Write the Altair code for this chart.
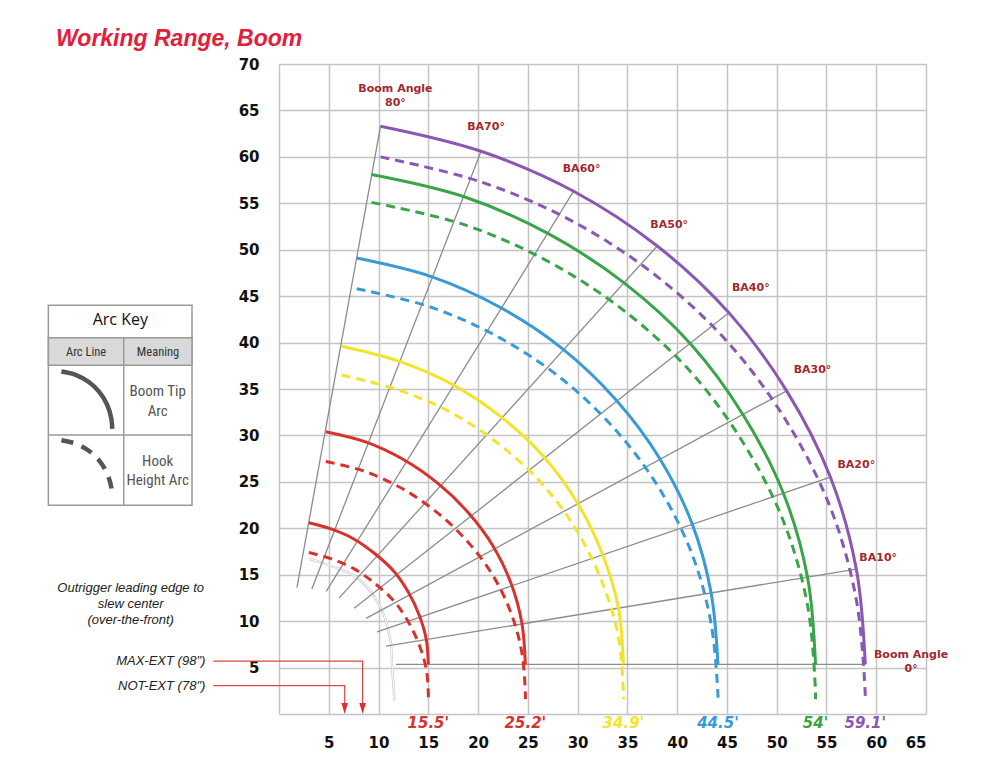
import altair as alt
import pandas as pd

# boom angles (deg) at which the tip positions were read, top of the arc first
angles = [80, 70, 60, 50, 40, 30, 20, 10, 0]

# one arc per boom length, labelled by max reach (ft)
reach_labels = ["15.5'", "25.2'", "34.9'", "44.5'", "54'", "59.1'"]
arc_colors = ["#d8322c", "#d8322c", "#f2e42a", "#3a9ad6", "#3aa449", "#8a57b3"]
label_colors = ["#d8322c", "#d8322c", "#e0d21e", "#3a9ad6", "#3aa449", "#6b3d98"]

# boom tip position (ft) at each boom angle, one row per arc
tip_x = [
    [3.0, 5.3, 7.6, 9.7, 11.6, 13.0, 14.1, 14.8, 15.0],
    [4.7, 8.7, 12.5, 16.0, 19.0, 21.5, 23.3, 24.4, 24.75],
    [6.3, 12.0, 17.4, 22.3, 26.6, 30.0, 32.5, 34.1, 34.6],
    [7.8, 15.3, 22.2, 28.4, 33.8, 38.2, 41.5, 43.4, 44.1],
    [9.3, 18.6, 27.1, 34.7, 41.4, 46.7, 50.7, 53.1, 53.9],
    [10.2, 20.3, 29.6, 38.0, 45.2, 51.0, 55.4, 58.0, 58.9],
]
tip_y = [
    [20.6, 19.9, 18.8, 17.2, 15.3, 13.1, 10.6, 8.0, 5.35],
    [30.4, 29.3, 27.4, 24.8, 21.7, 18.1, 14.1, 9.8, 5.35],
    [39.6, 38.0, 35.5, 32.0, 27.7, 22.7, 17.2, 11.4, 5.35],
    [49.1, 47.1, 43.8, 39.4, 33.9, 27.6, 20.5, 13.1, 5.35],
    [58.1, 55.7, 51.7, 46.4, 39.8, 32.1, 23.7, 14.7, 5.35],
    [63.3, 60.6, 56.3, 50.4, 43.2, 34.8, 25.5, 15.6, 5.35],
]
# hook hangs this far under the tip; hook arcs run down to hook_bottom
hook_drop = [3.2, 3.2, 3.1, 3.3, 3.0, 3.3]
hook_bottom = 1.6

# where each boom angle line starts (base of the boom), it ends at the longest tip
boom_start_x = [1.8, 3.3, 4.75, 6.05, 7.55, 8.75, 9.85, 10.75, 11.75]
boom_start_y = [13.6, 13.45, 13.2, 12.5, 11.4, 10.3, 8.85, 7.3, 5.35]
ba_text = ["Boom Angle\n80°", "BA70°", "BA60°", "BA50°", "BA40°",
           "BA30°", "BA20°", "BA10°", "Boom Angle\n0°"]
ba_x = [11.7, 20.8, 30.4, 39.2, 47.4, 53.6, 58.0, 60.2, 63.5]
ba_y = [67.3, 63.2, 58.7, 52.7, 45.9, 37.0, 26.8, 16.8, 6.35]

# faint outline of the boom base
base_x = [3.1, 7.8, 10.2, 11.2, 11.35, 11.6]
base_y = [16.7, 14.7, 11.5, 7.9, 5.4, 1.45]

# outrigger leaders
ext_labels = ['MAX-EXT (98")', 'NOT-EXT (78")']
ext_x = [8.4, 6.6]
ext_y = [5.7, 3.05]
leader_start = -6.6

x_ticks = list(range(0, 66, 5))
y_ticks = list(range(0, 71, 5))

# ---- tables ----
tips, hooks = [], []
for i, lab in enumerate(reach_labels):
    for j in range(len(angles)):
        tips.append({"arc": lab, "seq": j, "x": tip_x[i][j], "y": tip_y[i][j]})
        hooks.append({"arc": lab, "seq": j, "x": tip_x[i][j], "y": tip_y[i][j] - hook_drop[i]})
    hooks.append({"arc": lab, "seq": len(angles), "x": tip_x[i][-1], "y": hook_bottom})
tips = pd.DataFrame(tips)
hooks = pd.DataFrame(hooks)

booms = []
for j, ang in enumerate(angles):
    booms.append({"angle": ang, "seq": 0, "x": boom_start_x[j], "y": boom_start_y[j]})
    booms.append({"angle": ang, "seq": 1, "x": tip_x[-1][j], "y": tip_y[-1][j]})
booms = pd.DataFrame(booms)

ba = pd.DataFrame({"text": ba_text, "x": ba_x, "y": ba_y})
ends = pd.DataFrame({"arc": reach_labels, "x": [r[-1] for r in tip_x], "y": 0})
base = pd.DataFrame({"x": base_x, "y": base_y, "seq": range(len(base_x))})

leaders = []
for k, lab in enumerate(ext_labels):
    leaders += [{"lab": lab, "seq": 0, "x": leader_start, "y": ext_y[k]},
                {"lab": lab, "seq": 1, "x": ext_x[k], "y": ext_y[k]},
                {"lab": lab, "seq": 2, "x": ext_x[k], "y": 1.0}]
leaders = pd.DataFrame(leaders)
ext = pd.DataFrame({"lab": ext_labels, "x": ext_x, "y": ext_y,
                    "xt": [-7.4, -7.4], "ya": [0.6, 0.6]})

num_font = "DejaVu Sans"
xs = alt.Scale(domain=[0, 65], nice=False, zero=False)
ys = alt.Scale(domain=[0, 70], nice=False, zero=False)
x_axis = alt.Axis(
    values=x_ticks, labelExpr="datum.value == 0 ? '' : datum.label", title=None,
    grid=True, gridColor="#c4c4c4", gridWidth=1.5, domain=False, ticks=False,
    labelFont=num_font, labelFontWeight="bold", labelFontSize=15, labelColor="#111",
    labelPadding=21)
y_axis = alt.Axis(
    values=y_ticks, labelExpr="datum.value == 0 ? '' : datum.label", title=None,
    grid=True, gridColor="#c4c4c4", gridWidth=1.5, domain=False, ticks=False,
    labelFont=num_font, labelFontWeight="bold", labelFontSize=15, labelColor="#111",
    labelPadding=20)
arc_color = alt.Color("arc:N", scale=alt.Scale(domain=reach_labels, range=arc_colors), legend=None)


def X(field="x"):
    return alt.X(f"{field}:Q", scale=xs, axis=x_axis)


def Y(field="y"):
    return alt.Y(f"{field}:Q", scale=ys, axis=y_axis)


base_line = alt.Chart(base).mark_line(color="#cfcfcf", strokeWidth=2.5, interpolate="catmull-rom").encode(
    x=X(), y=Y(), order="seq")
base_line_in = alt.Chart(base).mark_line(color="white", strokeWidth=1, interpolate="catmull-rom").encode(
    x=X(), y=Y(), order="seq")

boom_lines = alt.Chart(booms).mark_line(color="#8c8c8c", strokeWidth=1.3).encode(
    x=X(), y=Y(), detail="angle:N", order="seq")

tip_arcs = alt.Chart(tips).mark_line(strokeWidth=3, interpolate="catmull-rom").encode(
    x=X(), y=Y(), color=arc_color, detail="arc:N", order="seq")
hook_arcs = alt.Chart(hooks).mark_line(strokeWidth=3, strokeDash=[9, 6], interpolate="catmull-rom").encode(
    x=X(), y=Y(), color=arc_color, detail="arc:N", order="seq")

ba_labels = alt.Chart(ba).mark_text(
    font=num_font, fontWeight="bold", fontSize=11, color="#a02a2e",
    lineBreak="\n", lineHeight=14, align="center", baseline="middle"
).encode(x=X(), y=Y(), text="text:N")

end_labels = alt.Chart(ends).mark_text(
    font=num_font, fontWeight="bold", fontStyle="italic", fontSize=15,
    align="center", baseline="middle", dy=9
).encode(x=X(), y=Y(), text="arc:N",
         color=alt.Color("arc:N", scale=alt.Scale(domain=reach_labels, range=label_colors), legend=None))

leader_lines = alt.Chart(leaders).mark_line(color="#e0453f", strokeWidth=1.2).encode(
    x=X(), y=Y(), detail="lab:N", order="seq")
arrows = alt.Chart(ext).mark_point(
    shape="M-0.6,-1L0.6,-1L0,1Z", size=121, filled=True, color="#e0302a", opacity=1
).encode(x=X(), y=Y("ya"))
ext_text = alt.Chart(ext).mark_text(
    font="Liberation Sans", fontStyle="italic", fontSize=13, color="#222",
    align="right", baseline="middle"
).encode(x=X("xt"), y=Y(), text="lab:N")

note = alt.Chart(pd.DataFrame({"x": [-14.9], "y": [13.57],
                               "t": ["Outrigger leading edge to\nslew center\n(over-the-front)"]})).mark_text(
    font="Liberation Sans", fontStyle="italic", fontSize=13, color="#222",
    lineBreak="\n", lineHeight=16, align="center", baseline="middle"
).encode(x=X(), y=Y(), text="t:N")

title = alt.Chart(pd.DataFrame({"x": [-22.4], "y": [71.9], "t": ["Working Range, Boom"]})).mark_text(
    font="Liberation Sans", fontWeight="bold", fontStyle="italic", fontSize=23, color="#e1203b",
    align="left", baseline="alphabetic"
).encode(x=X(), y=Y(), text="t:N")

# ---- arc key table ----
key_left, key_right, key_mid = -23.17, -8.74, -15.6
key_rows = [44.03, 40.52, 37.55, 30.05, 22.49]
key_box = alt.Chart(pd.DataFrame({"x": [key_left], "x2": [key_right], "y": [key_rows[-1]], "y2": [key_rows[0]]})).mark_rect(
    fill="white", stroke="#9a9a9a", strokeWidth=1.5).encode(x=X(), x2="x2", y=Y(), y2="y2")
key_head = alt.Chart(pd.DataFrame({"x": [key_left], "x2": [key_right], "y": [key_rows[2]], "y2": [key_rows[1]]})).mark_rect(
    fill="#d9d9d9", stroke="#9a9a9a", strokeWidth=1.5).encode(x=X(), x2="x2", y=Y(), y2="y2")
key_hrule = alt.Chart(pd.DataFrame({"x": [key_left], "x2": [key_right], "y": [key_rows[3]]})).mark_rule(
    color="#9a9a9a", strokeWidth=1.5).encode(x=X(), x2="x2", y=Y())
key_vrule = alt.Chart(pd.DataFrame({"x": [key_mid], "y": [key_rows[-1]], "y2": [key_rows[1]]})).mark_rule(
    color="#9a9a9a", strokeWidth=1.5).encode(x=X(), y=Y(), y2="y2")

key_icon = pd.DataFrame({
    "x": [-21.86, -20.44, -19.14, -18.06, -17.27, -16.84, -16.75] * 2,
    "y": [36.88, 36.53, 35.78, 34.69, 33.32, 31.78, 30.7,
          29.48, 29.13, 28.38, 27.29, 25.92, 24.38, 23.3],
    "kind": ["tip"] * 7 + ["hook"] * 7,
    "seq": list(range(7)) * 2,
})
icon_solid = alt.Chart(key_icon).transform_filter("datum.kind == 'tip'").mark_line(
    color="#555", strokeWidth=4.5, interpolate="catmull-rom").encode(x=X(), y=Y(), order="seq")
icon_dash = alt.Chart(key_icon).transform_filter("datum.kind == 'hook'").mark_line(
    color="#555", strokeWidth=4.5, strokeDash=[12, 9], interpolate="catmull-rom").encode(x=X(), y=Y(), order="seq")

key_font = "Liberation Sans Narrow, Roboto Condensed, Roboto"
key_text = pd.DataFrame({
    "t": ["Arc Key", "Arc Line", "Meaning", "Boom Tip\nArc", "Hook\nHeight Arc"],
    "x": [-15.94, -19.38, -12.15, -12.19, -12.19],
    "y": [42.4, 38.95, 38.95, 34.78, 27.25],
    "size": ["big", "small", "small", "mid", "mid"],
})
key_title = alt.Chart(key_text).transform_filter("datum.size == 'big'").mark_text(
    font="Open Sans", fontSize=16, color="#111", align="center", baseline="middle").encode(x=X(), y=Y(), text="t:N")
key_sub = alt.Chart(key_text).transform_filter("datum.size == 'small'").mark_text(
    font=key_font, fontSize=12.5, color="#333", align="center", baseline="middle").encode(x=X(), y=Y(), text="t:N")
key_body = alt.Chart(key_text).transform_filter("datum.size == 'mid'").mark_text(
    font=key_font, fontSize=15, color="#555", lineBreak="\n", lineHeight=19.5,
    align="center", baseline="middle").encode(x=X(), y=Y(), text="t:N")

chart = alt.layer(
    base_line, base_line_in, boom_lines, tip_arcs, hook_arcs, ba_labels, end_labels,
    leader_lines, arrows, ext_text, note, title,
    key_box, key_head, key_hrule, key_vrule, icon_solid, icon_dash, key_title, key_sub, key_body,
).properties(
    width=647, height=650,
    padding={"left": 271, "top": 56, "right": 66, "bottom": 56},
    autosize=alt.AutoSizeParams(type="none"),
    background="white",
).configure_view(stroke=None)

chart.save("out.html", embed_options={"renderer": "svg", "actions": False})
